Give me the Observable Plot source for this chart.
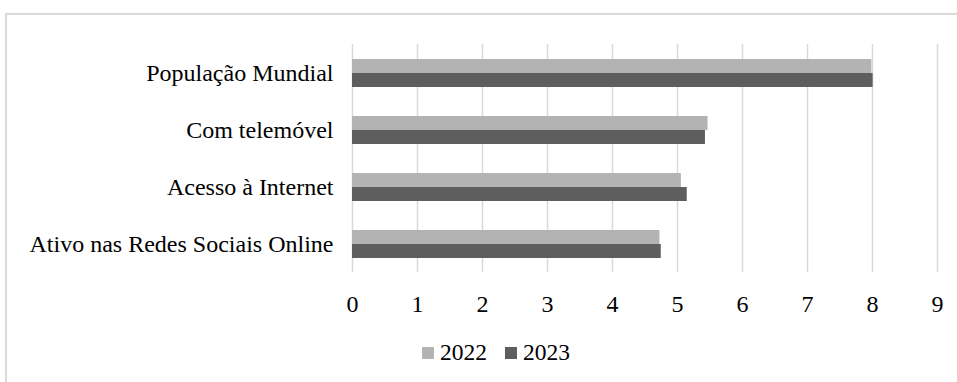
<!DOCTYPE html>
<html>
<head>
<meta charset="utf-8">
<script src="https://cdn.jsdelivr.net/npm/d3@7"></script>
<script src="https://cdn.jsdelivr.net/npm/@observablehq/plot@0.6"></script>
<style>
  html, body { margin: 0; padding: 0; background: #fff; overflow: hidden; width: 957px; height: 382px; }
  #frame { position: absolute; left: 5px; top: 13px; width: 1000px; height: 500px; border: 2px solid #d9d9d9; box-sizing: border-box; }
  #chart { position: absolute; left: 0; top: 0; }
  #legend { position: absolute; left: 422px; top: 339px; display: flex; align-items: center;
            font-family: "Liberation Serif", "Times New Roman", serif; font-size: 23.5px; color: #000; }
  #legend .item { display: flex; align-items: center; margin-right: 18px; }
  #legend .sw { width: 12px; height: 12px; margin-right: 6px; }
</style>
</head>
<body>
<div id="frame"></div>
<div id="chart"></div>
<div id="legend"></div>
<script>
const categories = ["População Mundial", "Com telemóvel", "Acesso à Internet", "Ativo nas Redes Sociais Online"];
const years = ["2022", "2023"];
const values2022 = [7.99, 5.47, 5.06, 4.73];
const values2023 = [8.01, 5.43, 5.15, 4.75];
const xTicks = [0, 1, 2, 3, 4, 5, 6, 7, 8, 9];

const FONT = "Liberation Serif, Times New Roman, serif";

const data = categories.flatMap((c, i) => [
  {category: c, year: years[0], value: values2022[i]},
  {category: c, year: years[1], value: values2023[i]}
]);

const plot = Plot.plot({
  width: 957,
  height: 320,
  marginLeft: 352,
  marginRight: 20,
  marginTop: 43,
  marginBottom: 48,
  style: {fontFamily: FONT, fontSize: "24px", color: "#000", background: "transparent", overflow: "visible"},
  x: {domain: [0, 9], label: null},
  fy: {domain: categories, padding: 0, label: null},
  y: {domain: years, paddingInner: 0, paddingOuter: 0.908, axis: null},
  color: {domain: years, range: ["#b3b3b3", "#5e5e5e"]},
  marks: [
    Plot.ruleX(xTicks, {stroke: "#d9d9d9", strokeWidth: 1.5, strokeOpacity: 1}),
    Plot.barX(data, {x: "value", y: "year", fy: "category", fill: "year"}),
    Plot.axisX({ticks: xTicks, tickSize: 0, tickPadding: 22, fontFamily: FONT, fontSize: 24, label: null}),
    Plot.axisFy({anchor: "left", tickSize: 0, tickPadding: 19, fontFamily: FONT, fontSize: 24, label: null})
  ]
});
document.getElementById("chart").appendChild(plot);

const color = plot.scale("color");
const legend = d3.select("#legend");
years.forEach((y, i) => {
  const item = legend.append("div").attr("class", "item");
  item.append("div").attr("class", "sw").style("background", color.range[i]);
  item.append("span").text(y);
});
</script>
</body>
</html>
